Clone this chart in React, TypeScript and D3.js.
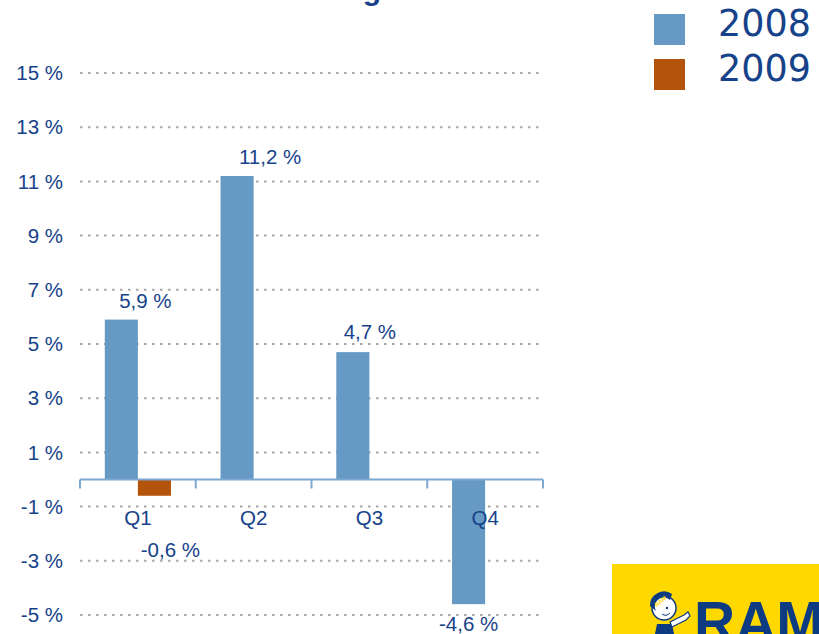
import React from "react";
import * as d3 from "d3";

const categories = ["Q1", "Q2", "Q3", "Q4"];
const seriesNames = ["2008", "2009"];
const values2008: (number | null)[] = [5.9, 11.2, 4.7, -4.6];
const values2009: (number | null)[] = [-0.6, null, null, null];
const labels2008 = ["5,9 %", "11,2 %", "4,7 %", "-4,6 %"];
const labels2009 = ["-0,6 %", "", "", ""];
const yTicks = [-5, -3, -1, 1, 3, 5, 7, 9, 11, 13, 15];
const titleText = "Sales growth";

// layout nudges for value labels (dx, dy from bar end)
const nudge2008 = [[24, -19], [33, -19], [17, -20], [0, 20]];
const nudge2009 = [[16, 54], [0, 0], [0, 0], [0, 0]];

const W = 819;
const H = 634;
const TEXT = "#16428A";
const C2008 = "#6699C3";
const C2009 = "#B4530A";
const GRID = "#A6A6A6";
const AXIS = "#7DA8D0";
const FONT = "'Liberation Sans', Arial, sans-serif";

export default function App() {
  const y = d3.scaleLinear().domain([-5, 15]).range([615, 73]);
  const x = d3.scaleBand<string>().domain(categories).range([80, 543]).paddingInner(0).paddingOuter(0);
  const xs = d3.scaleBand<string>().domain(seriesNames).range([0, x.bandwidth()]).paddingInner(0).paddingOuter(0.75);
  const series = [
    { name: "2008", values: values2008, labels: labels2008, color: C2008, nudge: nudge2008 },
    { name: "2009", values: values2009, labels: labels2009, color: C2009, nudge: nudge2009 },
  ];
  const y0 = y(0);

  return (
    <svg width={W} height={H} style={{ position: "absolute", left: 0, top: 0, background: "#fff" }}>
      {/* title, clipped at top */}
      <text x={276} y={0} fontFamily={FONT} fontWeight="bold" fontSize={30} fill={TEXT}>{titleText}</text>

      {/* gridlines */}
      {yTicks.map((t) => (
        <line key={t} x1={80} x2={543} y1={y(t)} y2={y(t)} stroke={GRID} strokeWidth={2} strokeDasharray="2.5 5.5" />
      ))}
      {/* y tick labels */}
      {yTicks.map((t) => (
        <text key={"l" + t} x={63} y={y(t)} dy="0.35em" textAnchor="end" fontFamily={FONT} fontSize={20.5} fill={TEXT}>
          {`${t} %`}
        </text>
      ))}

      {/* bars */}
      {series.map((s) =>
        s.values.map((v, i) => {
          if (v == null) return null;
          const bx = (x(categories[i]) as number) + (xs(s.name) as number);
          const top = Math.min(y(v), y0);
          const h = Math.abs(y(v) - y0);
          return <rect key={s.name + i} x={bx} y={top} width={xs.bandwidth()} height={h} fill={s.color} />;
        })
      )}

      {/* axis */}
      <line x1={80} x2={543} y1={y0} y2={y0} stroke={AXIS} strokeWidth={2} />
      {[...categories.map((c) => x(c) as number), 543].map((px, i) => (
        <line key={"t" + i} x1={px} x2={px} y1={y0} y2={y0 + 9} stroke={AXIS} strokeWidth={2} />
      ))}
      {categories.map((c) => (
        <text key={c} x={(x(c) as number) + x.bandwidth() / 2} y={518} dy="0.35em" textAnchor="middle" fontFamily={FONT} fontSize={20.5} fill={TEXT}>
          {c}
        </text>
      ))}

      {/* value labels */}
      {series.map((s) =>
        s.values.map((v, i) => {
          if (v == null || !s.labels[i]) return null;
          const cx = (x(categories[i]) as number) + (xs(s.name) as number) + xs.bandwidth() / 2;
          const cy = y(v);
          return (
            <text key={"v" + s.name + i} x={cx + s.nudge[i][0]} y={cy + s.nudge[i][1]} dy="0.35em" textAnchor="middle" fontFamily={FONT} fontSize={20.5} fill={TEXT}>
              {s.labels[i]}
            </text>
          );
        })
      )}

      {/* legend */}
      {series.map((s, i) => (
        <g key={"lg" + s.name} transform={`translate(654, ${14 + i * 45})`}>
          <rect x={0} y={0} width={31} height={31} fill={s.color} />
          <text x={64} y={22} fontFamily="'DejaVu Sans', sans-serif" fontSize={36.5} fill={TEXT}>{s.name}</text>
        </g>
      ))}

      {/* logo */}
      <g>
        <rect x={612} y={564} width={207} height={70} fill="#FFD800" />
        <text x={694} y={642} fontFamily={FONT} fontWeight="bold" fontSize={57} fill="#0D3B82">RAM</text>
        {/* mascot */}
        <path d="M655,634 L657,624 L672,624 L674,634 Z" fill="#0D3B82" />
        <path d="M670,622 L684,615 L688,612 L690,616 L686,620 L672,627 Z" fill="#fff" stroke="#0D3B82" strokeWidth={1.2} />
        <circle cx={664} cy={608} r={12} fill="#fff" stroke="#0D3B82" strokeWidth={1.5} />
        <path d="M650,606 A14,14 0 0 1 672,594 L670,600 A9,9 0 0 0 656,611 Z" fill="#0D3B82" />
        <text x={654} y={606} fontFamily={FONT} fontWeight="bold" fontSize={6} fill="#FFD800" transform="rotate(-40 657 603)">RAM</text>
        <circle cx={667} cy={608} r={1.2} fill="#0D3B82" />
        <path d="M662,614 Q666,617 670,613" fill="none" stroke="#0D3B82" strokeWidth={1} />
      </g>
    </svg>
  );
}
